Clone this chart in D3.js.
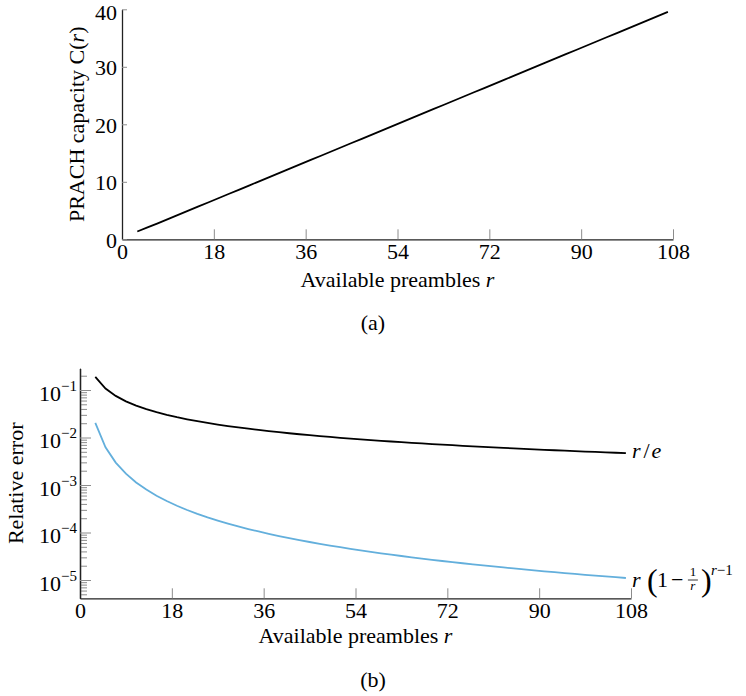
<!DOCTYPE html>
<html>
<head>
<meta charset="utf-8">
<script src="https://cdn.jsdelivr.net/npm/d3@7"></script>
<style>
  html, body { margin: 0; padding: 0; background: #fff; }
  svg { display: block; }
  text { font-family: "Liberation Serif", "Times New Roman", serif; fill: #000; }
</style>
</head>
<body>
<svg id="chart" width="746" height="696"></svg>
<script>
// Available preambles r (odd values sampled from 3 to 107)
const preambles = [3, 5, 7, 9, 11, 13, 15, 17, 19, 21, 23, 25, 27, 29, 31, 33, 35, 37, 39, 41,
  43, 45, 47, 49, 51, 53, 55, 57, 59, 61, 63, 65, 67, 69, 71, 73, 75, 77, 79, 81,
  83, 85, 87, 89, 91, 93, 95, 97, 99, 101, 103, 105, 107];

// PRACH capacity C(r)
const capacity = [1.361, 2.061, 2.784, 3.514, 4.246, 4.979, 5.713, 6.447, 7.182, 7.917,
  8.652, 9.387, 10.123, 10.858, 11.593, 12.329, 13.064, 13.800, 14.535, 15.271,
  16.006, 16.742, 17.478, 18.213, 18.949, 19.684, 20.420, 21.156, 21.891, 22.627,
  23.363, 24.098, 24.834, 25.570, 26.305, 27.041, 27.777, 28.513, 29.248, 29.984,
  30.720, 31.455, 32.191, 32.927, 33.663, 34.398, 35.134, 35.870, 36.606, 37.341,
  38.077, 38.813, 39.548];

// Relative error of the r/e approximation
const errRe = [0.1891, 0.10743, 0.07510, 0.05774, 0.04690, 0.039487, 0.034099, 0.030006,
  0.026790, 0.024197, 0.022062, 0.020272, 0.018751, 0.017443, 0.016305, 0.015307,
  0.014423, 0.013637, 0.012931, 0.012295, 0.011719, 0.011194, 0.010715, 0.010274,
  0.009868, 0.009494, 0.009146, 0.008824, 0.008523, 0.008242, 0.007979, 0.007732,
  0.007500, 0.007282, 0.007075, 0.006881, 0.006697, 0.006522, 0.006356, 0.006198,
  0.006048, 0.005906, 0.005769, 0.005639, 0.005515, 0.005396, 0.005282, 0.005173,
  0.005068, 0.004967, 0.004870, 0.004777, 0.004687];

// Relative error of the r(1 - 1/r)^(r-1) approximation
const errPow = [0.020295, 0.006200, 0.002965, 0.001735, 0.001134, 0.00080091, 0.00059506,
  0.00045947, 0.00036544, 0.00029759, 0.00024701, 0.00020832, 0.00017806, 0.00015393,
  0.0001344, 0.00011836, 0.00010504, 9.3843e-5, 8.4344e-5, 7.6219e-5, 6.9213e-5,
  6.313e-5, 5.7817e-5, 5.3146e-5, 4.9019e-5, 4.5356e-5, 4.2087e-5, 3.916e-5, 3.6528e-5,
  3.4153e-5, 3.2002e-5, 3.0048e-5, 2.8268e-5, 2.6641e-5, 2.5151e-5, 2.3783e-5,
  2.2522e-5, 2.136e-5, 2.0286e-5, 1.929e-5, 1.8366e-5, 1.7507e-5, 1.6707e-5, 1.596e-5,
  1.5263e-5, 1.461e-5, 1.3997e-5, 1.3423e-5, 1.2884e-5, 1.2377e-5, 1.1897e-5,
  1.1447e-5, 1.1021e-5];

// Axis ticks
const xTicks = [0, 18, 36, 54, 72, 90, 108];
const yTicksCap = [0, 10, 20, 30, 40];
const yExpMajor = [-1, -2, -3, -4, -5];

const svg = d3.select("#chart");
const FS = 22;
const tickColor = "#8c8c8c";
const axisColor = "#222";

function styleAxis(g) {
  g.attr("font-family", null).attr("font-size", null);
  g.select(".domain").attr("stroke", axisColor).attr("stroke-width", 1.3);
  g.selectAll(".tick line").attr("stroke", tickColor).attr("stroke-width", 1);
  g.selectAll(".tick text").style("font-size", FS + "px").attr("fill", "#000");
}

// ---------- (a) PRACH capacity ----------
const xA = d3.scaleLinear().domain([0, 108]).range([122, 673]);
const yA = d3.scaleLinear().domain([0, 40]).range([239.3, 9.3]);

const gA = svg.append("g");
gA.append("g")
  .attr("transform", `translate(0,${yA(0)})`)
  .call(d3.axisBottom(xA).tickValues(xTicks).tickSize(-10).tickSizeOuter(0).tickPadding(4))
  .call(styleAxis);
gA.append("g")
  .attr("transform", `translate(${xA(0)},0)`)
  .call(d3.axisLeft(yA).tickValues(yTicksCap).tickSize(-5).tickSizeOuter(0).tickPadding(5))
  .call(styleAxis)
  // the topmost label sits against the top edge, so it is nudged down to stay inside
  .call(g => g.selectAll(".tick text").attr("dy", d => d === 40 ? "0.47em" : "0.36em"));

gA.append("path")
  .datum(preambles.map((r, i) => [r, capacity[i]]))
  .attr("fill", "none").attr("stroke", "#000").attr("stroke-width", 1.8)
  .attr("d", d3.line().x(d => xA(d[0])).y(d => yA(d[1])));

gA.append("text")
  .attr("x", (xA(0) + xA(108)) / 2).attr("y", 287)
  .attr("text-anchor", "middle").style("font-size", FS + "px")
  .call(t => { t.append("tspan").text("Available preambles "); t.append("tspan").attr("font-style", "italic").text("r"); });

gA.append("text")
  .attr("transform", `translate(84,${(yA(0) + yA(40)) / 2}) rotate(-90)`)
  .attr("text-anchor", "middle").style("font-size", FS + "px")
  .call(t => {
    t.append("tspan").text("PRACH capacity C(");
    t.append("tspan").attr("font-style", "italic").text("r");
    t.append("tspan").text(")");
  });

svg.append("text").attr("x", 373).attr("y", 330).attr("text-anchor", "middle")
  .style("font-size", FS + "px").text("(a)");

// ---------- (b) Relative error ----------
const xB = d3.scaleLinear().domain([0, 108]).range([80, 631]);
const yB = d3.scaleLog().domain([Math.pow(10, -5.385), Math.pow(10, -0.543)]).range([598.3, 368.3]);

const gB = svg.append("g");
gB.append("g")
  .attr("transform", `translate(0,${yB.range()[0]})`)
  .call(d3.axisBottom(xB).tickValues(xTicks).tickSize(-10).tickSizeOuter(0).tickPadding(4))
  .call(styleAxis);

// minor log ticks
const minors = [];
for (let k = -6; k <= -1; k++) {
  for (let m = 2; m <= 9; m++) {
    const v = m * Math.pow(10, k);
    if (v >= yB.domain()[0] && v <= yB.domain()[1]) minors.push(v);
  }
}
gB.append("g")
  .attr("transform", `translate(${xB(0)},0)`)
  .call(d3.axisLeft(yB).tickValues(minors).tickSize(-7).tickSizeOuter(0).tickFormat(""))
  .call(styleAxis);

const yAxisB = gB.append("g")
  .attr("transform", `translate(${xB(0)},0)`)
  .call(d3.axisLeft(yB).tickValues(yExpMajor.map(e => Math.pow(10, e))).tickSize(-11).tickSizeOuter(0).tickPadding(3).tickFormat(""))
  .call(styleAxis);
yAxisB.selectAll(".tick").each(function(d) {
  const e = Math.round(Math.log10(d));
  const t = d3.select(this).append("text")
    .attr("x", -3).attr("y", 10).attr("text-anchor", "end").attr("fill", "#000")
    .style("font-size", FS + "px");
  t.append("tspan").text("10");
  t.append("tspan").attr("dy", -10).style("font-size", "15px").text("\u2212" + Math.abs(e));
});

gB.append("path")
  .datum(preambles.map((r, i) => [r, errRe[i]]))
  .attr("fill", "none").attr("stroke", "#000").attr("stroke-width", 1.8)
  .attr("d", d3.line().x(d => xB(d[0])).y(d => yB(d[1])));

gB.append("path")
  .datum(preambles.map((r, i) => [r, errPow[i]]))
  .attr("fill", "none").attr("stroke", "#63afdc").attr("stroke-width", 1.8)
  .attr("d", d3.line().x(d => xB(d[0])).y(d => yB(d[1])));

// curve labels
const lastR = preambles[preambles.length - 1];
const reEnd = [xB(lastR), yB(errRe[errRe.length - 1])];
gB.append("text").attr("x", reEnd[0] + 6).attr("y", reEnd[1] + 5)
  .style("font-size", FS + "px")
  .call(t => {
    t.append("tspan").attr("font-style", "italic").text("r");
    t.append("tspan").attr("dx", 3).text("/");
    t.append("tspan").attr("dx", 2).attr("font-style", "italic").text("e");
  });

const pwEnd = [xB(lastR), yB(errPow[errPow.length - 1])];
const lx = pwEnd[0] + 6, ly = pwEnd[1] + 9;
const lab = gB.append("g").attr("transform", `translate(${lx},${ly})`);
lab.append("text").attr("x", 0).attr("y", 0).attr("font-style", "italic").style("font-size", FS + "px").text("r");
lab.append("text").attr("x", 15).attr("y", 4).style("font-size", "32px").text("(");
lab.append("text").attr("x", 25).attr("y", 0).style("font-size", FS + "px").text("1");
lab.append("text").attr("x", 39).attr("y", 0).style("font-size", FS + "px").text("\u2212");
lab.append("text").attr("x", 61).attr("y", -11).attr("text-anchor", "middle").style("font-size", "13px").text("1");
lab.append("line").attr("x1", 56).attr("x2", 66).attr("y1", -7).attr("y2", -7).attr("stroke", "#000").attr("stroke-width", 0.8);
lab.append("text").attr("x", 61).attr("y", 3).attr("text-anchor", "middle").attr("font-style", "italic").style("font-size", "13px").text("r");
lab.append("text").attr("x", 69).attr("y", 4).style("font-size", "32px").text(")");
lab.append("text").attr("x", 79).attr("y", -12).style("font-size", "15px")
  .call(t => {
    t.append("tspan").attr("font-style", "italic").text("r");
    t.append("tspan").text("\u22121");
  });

gB.append("text")
  .attr("x", (xB(0) + xB(108)) / 2).attr("y", 643)
  .attr("text-anchor", "middle").style("font-size", FS + "px")
  .call(t => { t.append("tspan").text("Available preambles "); t.append("tspan").attr("font-style", "italic").text("r"); });

gB.append("text")
  .attr("transform", `translate(23,${(yB.range()[0] + yB.range()[1]) / 2}) rotate(-90)`)
  .attr("text-anchor", "middle").style("font-size", FS + "px")
  .text("Relative error");

svg.append("text").attr("x", 373).attr("y", 687).attr("text-anchor", "middle")
  .style("font-size", FS + "px").text("(b)");
</script>
</body>
</html>
